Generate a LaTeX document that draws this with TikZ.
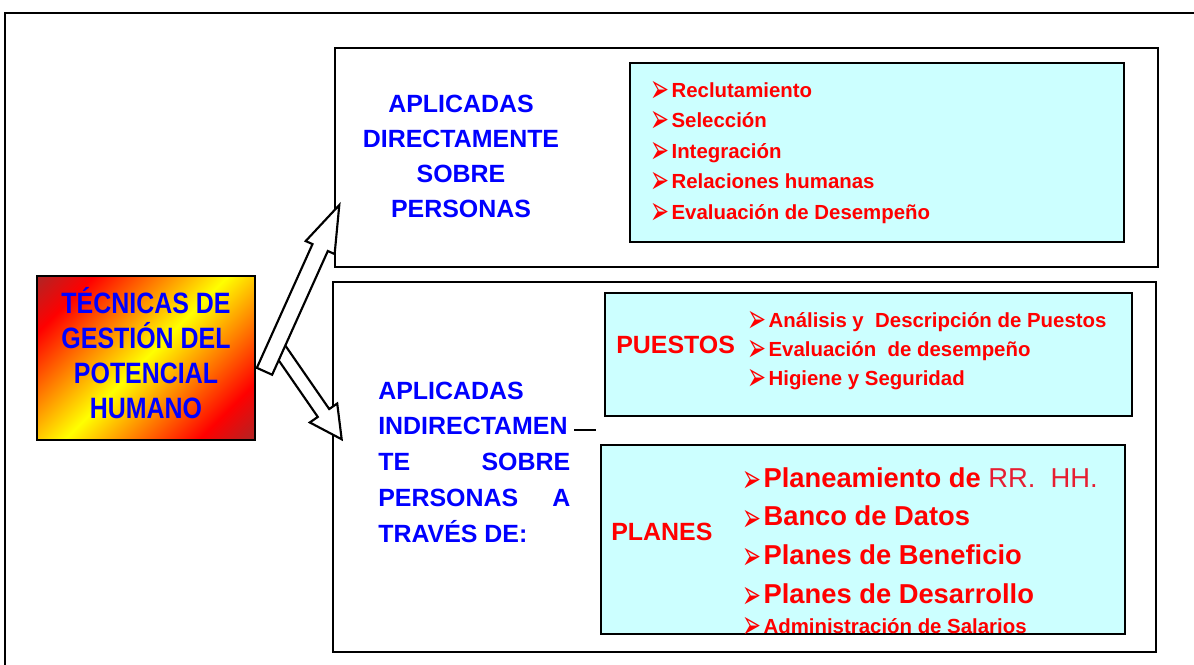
\documentclass[tikz,border=0pt]{standalone}
\usepackage{fontspec}
\usepackage{graphicx}
\setmainfont{Liberation Sans}
\newfontfamily\dingfont{DejaVu Sans}
\usetikzlibrary{calc,fit,shadows}

\definecolor{listcyan}{RGB}{204,255,255}
\definecolor{headblue}{RGB}{0,0,255}
\definecolor{itemred}{RGB}{255,0,0}
\definecolor{rrred}{RGB}{230,30,50}
\definecolor{tbrown}{RGB}{125,60,60}

\pgfdeclarehorizontalshading{titlefill}{100bp}{color(0bp)=(tbrown); color(8bp)=(tbrown); color(25bp)=(red); color(50bp)=(yellow); color(75bp)=(red); color(92bp)=(tbrown); color(100bp)=(tbrown)}

% bullet of the lists
\newcommand{\bul}{\makebox[16pt][l]{\dingfont\fontsize{17}{17}\selectfont\smash{\raisebox{-4pt}{\scalebox{1}[1.75]{\char"27A2}}}}}

% hollow block arrow: from, to, shaft half width, head half width, head length
\newcommand{\blockarrow}[5]{%
  \draw[block_arrow] ($(#1)!#3!90:(#2)$) -- ($(#2)!#5!(#1)!#3!90:(#2)$)
    -- ($(#2)!#5!(#1)!#4!90:(#2)$) -- (#2)
    -- ($(#2)!#5!(#1)!#4!-90:(#2)$) -- ($(#2)!#5!(#1)!#3!-90:(#2)$)
    -- ($(#1)!#3!-90:(#2)$) -- cycle;}

\begin{document}
\begin{tikzpicture}[x=0.75pt, y=-0.75pt,
  frame_box/.style={draw, line width=1pt, inner sep=0pt},
  list_box/.style={draw, line width=1.6pt, fill=listcyan, inner sep=0pt, drop shadow={shadow xshift=0.8pt, shadow yshift=-0.8pt, fill=black!45}},
  head_text/.style={text=headblue, font=\bfseries\fontsize{18.7}{22}\selectfont, inner sep=0pt},
  item_text/.style={text=itemred, font=\bfseries\fontsize{15.3}{18}\selectfont, inner sep=0pt, anchor=base west},
  big_item/.style={item_text, font=\bfseries\fontsize{20.5}{24}\selectfont},
  block_arrow/.style={draw, fill=white, line width=1.6pt, line join=miter}]
\useasboundingbox (0,0) rectangle (1194,664);

% outer frame
\draw[line width=1.6pt] (5,680) -- (5,13) -- (1210,13);

% boxes
\node[frame_box, fit={(335,48) (1158,267)}] (direct) {};
\node[frame_box, fit={(333,282) (1156,652)}] (indirect) {};
\node[list_box, fit={(630,63) (1124,242)}] (list_direct) {};
\node[list_box, fit={(605,293) (1132,416)}] (list_puestos) {};
\node[list_box, fit={(601,445) (1125,634)}] (list_planes) {};
\node[draw, line width=1.3pt, shade, shading=titlefill, shading angle=-45, inner sep=0pt, fit={(37,276) (255,440)}] (tecnicas) {};

% arrows
\coordinate (forkA) at (264.5,371.3);
\coordinate (tipA) at (339.3,205);
\coordinate (forkB) at (276.4,344.8);
\coordinate (tipB) at (341.7,439.3);
\blockarrow{forkB}{tipB}{5.2pt}{12.5pt}{24pt}
\blockarrow{forkA}{tipA}{6.3pt}{11.9pt}{35pt}

% title
\foreach \txt [count=\i] in {TÉCNICAS DE, GESTIÓN DEL, POTENCIAL, HUMANO}
  \node[head_text, anchor=base] (tecnicas\i) at (146,{313+35*(\i-1)}) {\scalebox{1}[1.18]{\txt}};

% direct
\foreach \txt [count=\i] in {APLICADAS, DIRECTAMENTE, SOBRE, PERSONAS}
  \node[head_text, anchor=base] (dir\i) at (461,{112+35*(\i-1)}) {\txt};
\foreach \txt [count=\i] in {Reclutamiento, Selección, Integración, Relaciones humanas, Evaluación de Desempeño}
  \node[item_text] (dir_item\i) at (650,{97+30.5*(\i-1)}) {\bul\txt};

% indirect
\foreach \txt [count=\i] in {APLICADAS\hfill, INDIRECTAMEN\hfill, TE\hfill SOBRE, PERSONAS\hfill A, TRAVÉS DE:\hfill}
  \node[head_text, anchor=base west] (ind\i) at (378,{399+35.8*(\i-1)}) {\hbox to 144pt{\txt}};
\coordinate (dash_a) at (574,430);
\coordinate (dash_b) at (596,430);
\draw[line width=1.2pt] (dash_a) -- (dash_b);

\node[head_text, text=itemred, anchor=base west] (puestos) at (616,353) {PUESTOS};
\foreach \txt [count=\i] in {Análisis y\ \ Descripción de Puestos, Evaluación\ \ de desempeño, Higiene y Seguridad}
  \node[item_text] (puesto\i) at (747,{327+29*(\i-1)}) {\bul\txt};

\node[head_text, text=itemred, anchor=base west] (planes) at (611,540) {PLANES};
\foreach \txt [count=\i] in {Planeamiento de {\mdseries\color{rrred}RR.\ \ HH.}, Banco de Datos, Planes de Beneficio, Planes de Desarrollo}
  \node[big_item] (plan\i) at (742,{487+38.8*(\i-1)}) {\bul\txt};
\begin{scope}
  \clip (601,445) rectangle (1125,633);
  \node[item_text] (plan5) at (742,633) {\bul Administración de Salarios};
\end{scope}
\end{tikzpicture}
\end{document}
